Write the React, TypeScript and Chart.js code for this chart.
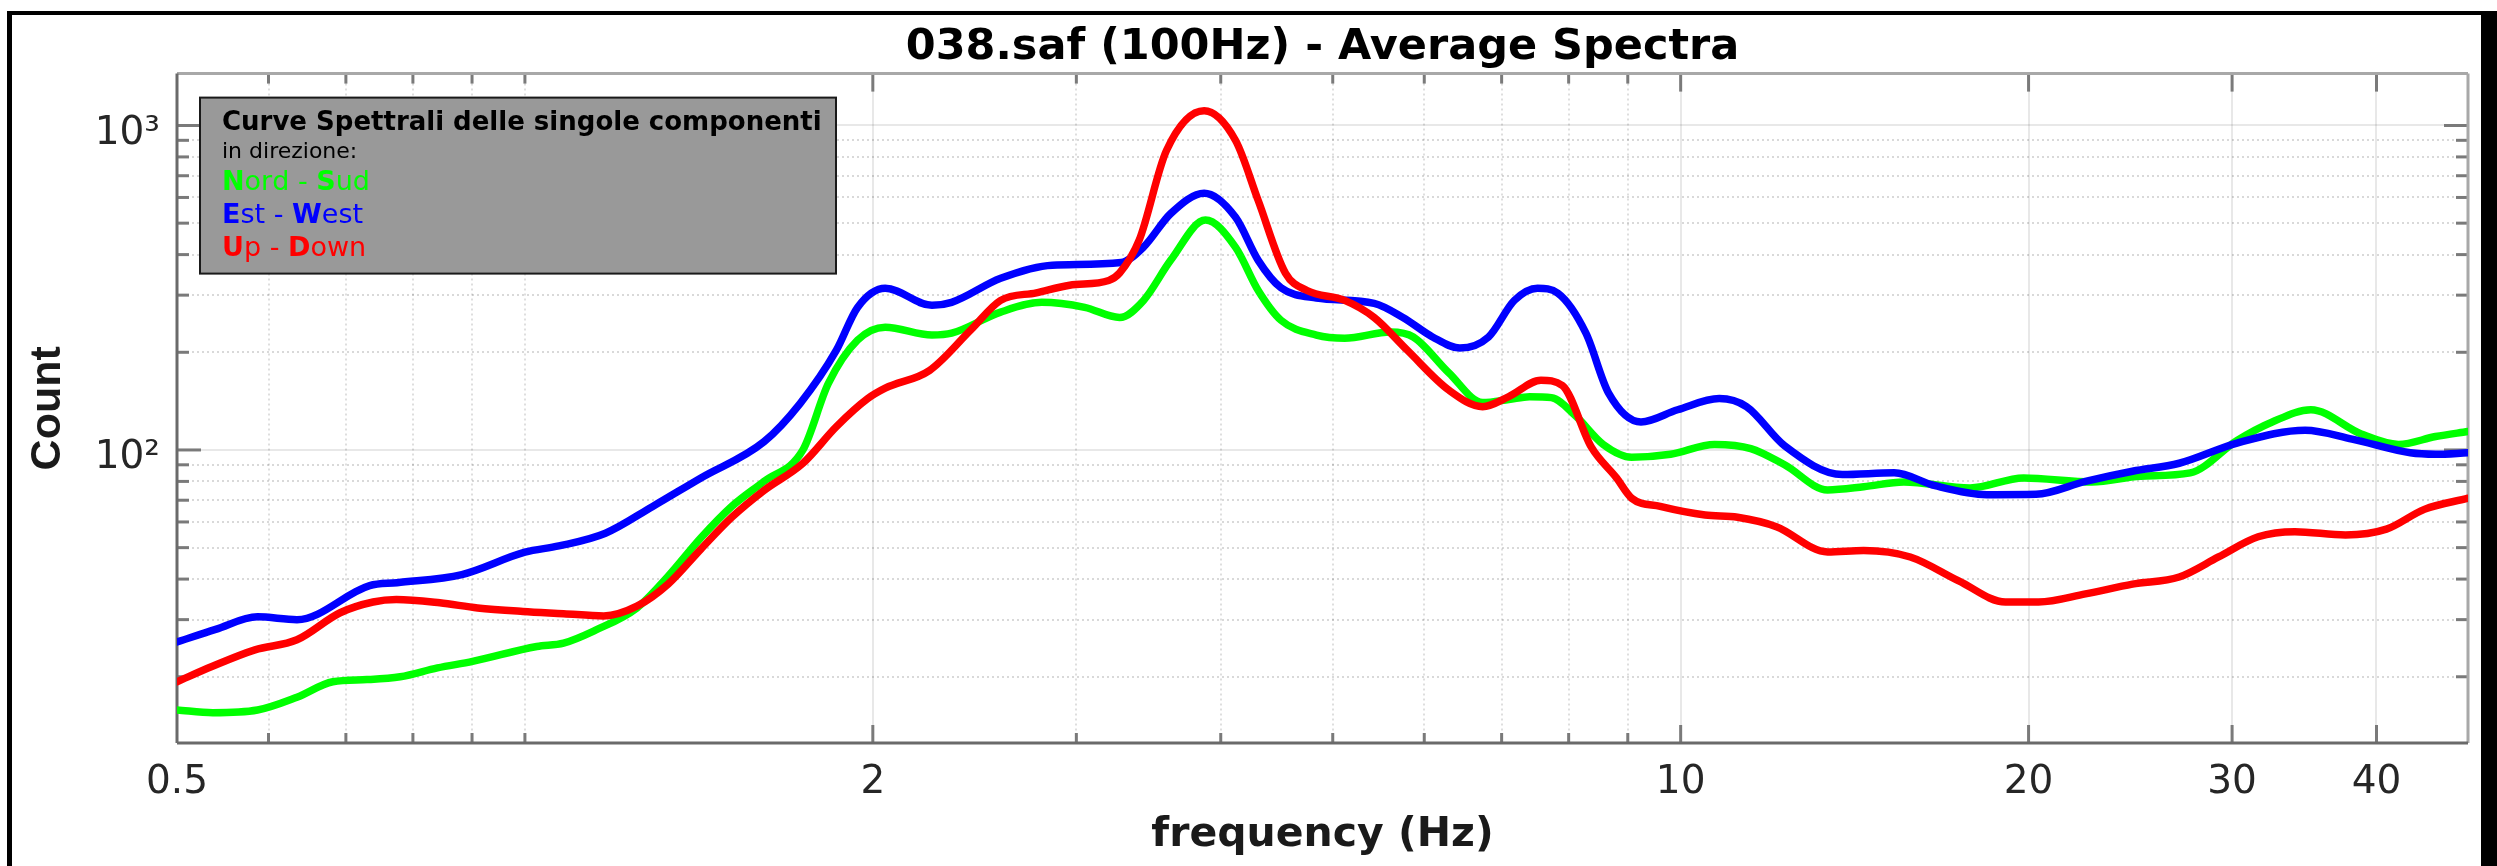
import React, { useEffect, useRef } from "react";
import { Chart, registerables } from "chart.js";

Chart.register(...registerables);

// ---------- text ----------
const TITLE = "038.saf (100Hz) - Average Spectra";
const X_TITLE = "frequency (Hz)";
const Y_TITLE = "Count";
const LEGEND_TITLE = "Curve Spettrali delle singole componenti";
const LEGEND_SUBTITLE = "in direzione:";
const SERIES_LABELS = ["Nord - Sud", "Est - West", "Up - Down"];
const SERIES_COLORS = ["#00ff00", "#0000ff", "#ff0000"];

// ---------- axes ----------
const X_MIN = 0.5;
const X_MAX = 48;
const Y_MIN = 12.5;
const Y_MAX = 1445;
const X_MAJOR_TICKS = [2, 10, 20, 30, 40];
const X_MINOR_TICKS = [0.6, 0.7, 0.8, 0.9, 1, 3, 4, 5, 6, 7, 8, 9];
const X_LABELED_TICKS = [0.5, 2, 10, 20, 30, 40];
const Y_MAJOR_TICKS = [100, 1000];
const Y_MINOR_TICKS = [20, 30, 40, 50, 60, 70, 80, 90, 200, 300, 400, 500, 600, 700, 800, 900];
const Y_TICK_LABELS: Record<number, string> = { 100: "10²", 1000: "10³" };

// ---------- data: Nord - Sud ----------
const NS_FREQ = [0.5, 0.537, 0.587, 0.635, 0.682, 0.73, 0.78, 0.84, 0.901, 1.024, 1.08, 1.15, 1.25, 1.33, 1.42, 1.51, 1.61, 1.74, 1.83, 1.94, 2.05, 2.25, 2.34, 2.58, 2.8, 3.05, 3.27, 3.43, 3.62, 3.88, 4.12, 4.31, 4.51, 4.84, 5.12, 5.61, 5.87, 6.3, 6.74, 7.1, 7.4, 7.73, 8.1, 8.57, 9.07, 9.8, 10.7, 11.5, 12.3, 13.4, 14.4, 15.6, 17.8, 19.8, 22.7, 25, 27.6, 30.3, 32.5, 35.1, 38.8, 41.8, 45, 48];
const NS_COUNT = [15.8, 15.5, 15.8, 17.3, 19.3, 19.6, 20.0, 21.3, 22.3, 24.8, 25.4, 27.8, 32.6, 40.8, 53.6, 67, 80, 100, 160, 218, 239, 226, 229, 266, 285, 275, 256, 289, 384, 511, 421, 310, 251, 226, 221, 231, 223, 173, 140, 143, 146, 145, 128, 104, 95, 97, 104, 101, 90, 75.3, 77, 79.7, 76.4, 82, 79.7, 83, 85, 107, 122, 133, 112, 104, 110, 114];

// ---------- data: Est - West ----------
const EW_FREQ = [0.5, 0.54, 0.587, 0.635, 0.734, 0.775, 0.882, 1.0, 1.07, 1.174, 1.29, 1.42, 1.61, 1.73, 1.86, 1.94, 2.05, 2.25, 2.34, 2.58, 2.86, 3.28, 3.43, 3.62, 3.87, 4.12, 4.31, 4.51, 4.84, 5.43, 5.75, 6.1, 6.44, 6.82, 7.18, 7.52, 7.83, 8.28, 8.66, 9.24, 9.94, 10.8, 11.4, 12.3, 13.8, 15.3, 16.6, 18.4, 20.3, 22.4, 24.6, 27, 30.3, 34.7, 38.1, 42.8, 45, 48];
const EW_COUNT = [25.6, 28, 30.6, 30, 38.2, 39, 41.3, 48.4, 50.6, 55.4, 67, 82, 106, 139, 203, 275, 315, 279, 285, 338, 371, 378, 422, 535, 618, 521, 384, 316, 294, 283, 256, 223, 206, 223, 289, 315, 304, 229, 150, 122, 133, 144, 136, 103, 84, 85, 77.6, 72.8, 73, 80, 86, 91, 105, 115, 108, 98, 97, 98];

// ---------- data: Up - Down ----------
const UD_FREQ = [0.5, 0.536, 0.584, 0.635, 0.692, 0.739, 0.774, 0.844, 0.91, 0.996, 1.08, 1.17, 1.25, 1.33, 1.42, 1.51, 1.61, 1.74, 1.86, 1.98, 2.05, 2.24, 2.43, 2.58, 2.77, 2.96, 3.2, 3.27, 3.4, 3.59, 3.87, 4.12, 4.31, 4.55, 4.75, 5.12, 5.43, 5.8, 6.3, 6.74, 7.1, 7.57, 7.9, 8.37, 8.8, 9.07, 9.6, 10.5, 11.2, 12.1, 13.4, 14.4, 15.8, 17.4, 19.1, 20.4, 22.4, 24.6, 27, 29.2, 31.6, 34, 37.6, 40.8, 44, 48];
const UD_COUNT = [19.3, 21.5, 24.2, 26, 31.5, 34, 34.6, 33.8, 32.6, 31.8, 31.3, 30.8, 33, 38.6, 49.5, 62, 75, 91, 118, 144, 155, 176, 234, 289, 305, 322, 333, 351, 443, 837, 1110, 899, 587, 351, 310, 289, 256, 203, 153, 136, 146, 164, 158, 102, 82, 71, 67, 63, 62, 58, 48.5, 49, 46.8, 39.5, 34, 34, 36, 38.6, 40.6, 46.8, 54, 56, 54.7, 57, 65.6, 71];

const SERIES_FREQ = [NS_FREQ, EW_FREQ, UD_FREQ];
const SERIES_COUNT = [NS_COUNT, EW_COUNT, UD_COUNT];
const SERIES_ORDER = [2, 1, 0]; // red on top, then blue, then green

const X_ALL_TICKS = [X_MIN, ...X_MINOR_TICKS, ...X_MAJOR_TICKS].sort((a, b) => a - b);
const Y_ALL_TICKS = [...Y_MINOR_TICKS, ...Y_MAJOR_TICKS].sort((a, b) => a - b);

const TICK_FONT = "DejaVu Sans";

function line(ctx: CanvasRenderingContext2D, x1: number, y1: number, x2: number, y2: number) {
  ctx.beginPath();
  ctx.moveTo(x1, y1);
  ctx.lineTo(x2, y2);
  ctx.stroke();
}

const framePlugin = {
  id: "outerFrame",
  beforeDraw(chart: any) {
    const { ctx, width, height } = chart;
    ctx.save();
    ctx.fillStyle = "#ffffff";
    ctx.fillRect(0, 0, width, height);
    ctx.fillStyle = "#000000";
    ctx.fillRect(7, 11, width - 7, 4);
    ctx.fillRect(7, 11, 5, height - 11);
    ctx.fillRect(width - 16, 11, 16, height - 11);
    ctx.restore();
  },
};

const axesBoxPlugin = {
  id: "axesBox",
  beforeDatasetsDraw(chart: any) {
    const { ctx, chartArea } = chart;
    const { left, right, top, bottom } = chartArea;
    const xs = chart.scales.x;
    const ys = chart.scales.y;
    ctx.save();
    ctx.lineCap = "butt";
    ctx.lineWidth = 3;
    ctx.strokeStyle = "#7a7a7a";
    for (const v of X_MAJOR_TICKS) {
      const p = xs.getPixelForValue(v);
      line(ctx, p, bottom, p, bottom - 18);
      line(ctx, p, top, p, top + 18);
    }
    for (const v of X_MINOR_TICKS) {
      const p = xs.getPixelForValue(v);
      line(ctx, p, bottom, p, bottom - 10);
      line(ctx, p, top, p, top + 10);
    }
    for (const v of Y_MAJOR_TICKS) {
      const p = ys.getPixelForValue(v);
      line(ctx, left, p, left + 24, p);
      line(ctx, right, p, right - 24, p);
    }
    for (const v of Y_MINOR_TICKS) {
      const p = ys.getPixelForValue(v);
      line(ctx, left, p, left + 12, p);
      line(ctx, right, p, right - 12, p);
    }
    // box
    ctx.strokeStyle = "#a8a8a8";
    line(ctx, left, top, right, top);
    line(ctx, right, top, right, bottom);
    ctx.strokeStyle = "#6a6a6a";
    line(ctx, left, bottom, right, bottom);
    line(ctx, left, top, left, bottom);
    ctx.restore();
  },
};

const legendBoxPlugin = {
  id: "legendBox",
  afterDatasetsDraw(chart: any) {
    const { ctx, chartArea } = chart;
    const bx = chartArea.left + 23;
    const by = chartArea.top + 24;
    const bw = 636;
    const bh = 176;
    ctx.save();
    ctx.fillStyle = "#999999";
    ctx.fillRect(bx, by, bw, bh);
    ctx.lineWidth = 2;
    ctx.strokeStyle = "#1a1a1a";
    ctx.strokeRect(bx, by, bw, bh);

    const tx = bx + 22;
    ctx.textBaseline = "alphabetic";
    ctx.textAlign = "left";
    ctx.fillStyle = "#000000";
    ctx.font = `bold 26px '${TICK_FONT}'`;
    ctx.fillText(LEGEND_TITLE, tx, by + 32);
    ctx.font = `22px '${TICK_FONT}'`;
    ctx.fillText(LEGEND_SUBTITLE, tx, by + 60);

    SERIES_LABELS.forEach((label, i) => {
      const ly = by + 92 + i * 33;
      let cx = tx;
      ctx.fillStyle = SERIES_COLORS[i];
      for (let k = 0; k < label.length; k++) {
        const ch = label[k];
        const isBold = /[A-Za-z]/.test(ch) && (k === 0 || label[k - 1] === " ");
        ctx.font = `${isBold ? "bold " : ""}27px '${TICK_FONT}'`;
        ctx.fillText(ch, cx, ly);
        cx += ctx.measureText(ch).width;
      }
    });
    ctx.restore();
  },
};

const isXMajor = (v: number) => X_MAJOR_TICKS.includes(v);
const isYMajor = (v: number) => Y_MAJOR_TICKS.includes(v);

export default function App() {
  const ref = useRef<HTMLCanvasElement>(null);

  useEffect(() => {
    if (!ref.current) return;
    const datasets = SERIES_LABELS.map((label, i) => ({
      label,
      data: SERIES_FREQ[i].map((f, j) => ({ x: f, y: SERIES_COUNT[i][j] })),
      borderColor: SERIES_COLORS[i],
      backgroundColor: SERIES_COLORS[i],
      borderWidth: 7.5,
      pointRadius: 0,
      fill: false,
      cubicInterpolationMode: "monotone" as const,
      borderJoinStyle: "round" as const,
      borderCapStyle: "round" as const,
      order: SERIES_ORDER[i],
    }));

    const chart = new Chart(ref.current, {
      type: "line",
      data: { datasets },
      options: {
        animation: false,
        responsive: false,
        devicePixelRatio: 1,
        events: [],
        layout: { padding: { left: 0, right: 29, top: 0, bottom: 0 } },
        plugins: {
          legend: { display: false },
          tooltip: { enabled: false },
          title: {
            display: true,
            text: TITLE,
            fullSize: false,
            color: "#000000",
            font: { family: TICK_FONT, size: 43, weight: "bold", lineHeight: 1.2 },
            padding: { top: 22, bottom: 0 },
          },
        },
        scales: {
          x: {
            type: "logarithmic",
            min: X_MIN,
            max: X_MAX,
            afterBuildTicks: (s: any) => {
              s.ticks = X_ALL_TICKS.map((v) => ({ value: v }));
            },
            afterFit: (s: any) => {
              s.height = 123;
            },
            ticks: {
              autoSkip: false,
              maxRotation: 0,
              minRotation: 0,
              padding: 16,
              color: "#262626",
              font: { family: TICK_FONT, size: 39 },
              callback: (v: any) => (X_LABELED_TICKS.includes(Number(v)) ? String(v) : ""),
            },
            grid: {
              drawTicks: false,
              lineWidth: 2,
              color: (c: any) =>
                c.tick && c.tick.value === X_MIN
                  ? "rgba(0,0,0,0)"
                  : c.tick && isXMajor(c.tick.value)
                  ? "rgba(0,0,0,0.09)"
                  : "rgba(0,0,0,0.13)",
            },
            border: {
              display: false,
              dash: (c: any) => (c.tick && isXMajor(c.tick.value) ? [] : [2, 3]),
            },
            title: {
              display: true,
              text: X_TITLE,
              color: "#1a1a1a",
              font: { family: TICK_FONT, size: 41, weight: "bold", lineHeight: 1.2 },
              padding: { top: 0, bottom: 6 },
            },
          },
          y: {
            type: "logarithmic",
            min: Y_MIN,
            max: Y_MAX,
            afterBuildTicks: (s: any) => {
              s.ticks = Y_ALL_TICKS.map((v) => ({ value: v }));
            },
            afterFit: (s: any) => {
              s.width = 177;
            },
            ticks: {
              autoSkip: false,
              padding: 17,
              labelOffset: 8,
              color: "#262626",
              font: { family: TICK_FONT, size: 39 },
              callback: (v: any) => Y_TICK_LABELS[Number(v)] ?? "",
            },
            grid: {
              drawTicks: false,
              lineWidth: 2,
              color: (c: any) =>
                c.tick && isYMajor(c.tick.value) ? "rgba(0,0,0,0.09)" : "rgba(0,0,0,0.15)",
            },
            border: {
              display: false,
              dash: (c: any) => (c.tick && isYMajor(c.tick.value) ? [] : [2, 3]),
            },
            title: {
              display: true,
              text: Y_TITLE,
              color: "#1a1a1a",
              font: { family: "Liberation Sans", size: 43, weight: "bold", lineHeight: 1.2 },
              padding: { top: 22, bottom: 0 },
            },
          },
        },
      },
      plugins: [framePlugin, axesBoxPlugin, legendBoxPlugin],
    } as any);

    return () => chart.destroy();
  }, []);

  return (
    <div style={{ position: "absolute", left: 0, top: 0, width: 2497, height: 866 }}>
      <canvas ref={ref} width={2497} height={866} style={{ display: "block", width: 2497, height: 866 }} />
    </div>
  );
}
